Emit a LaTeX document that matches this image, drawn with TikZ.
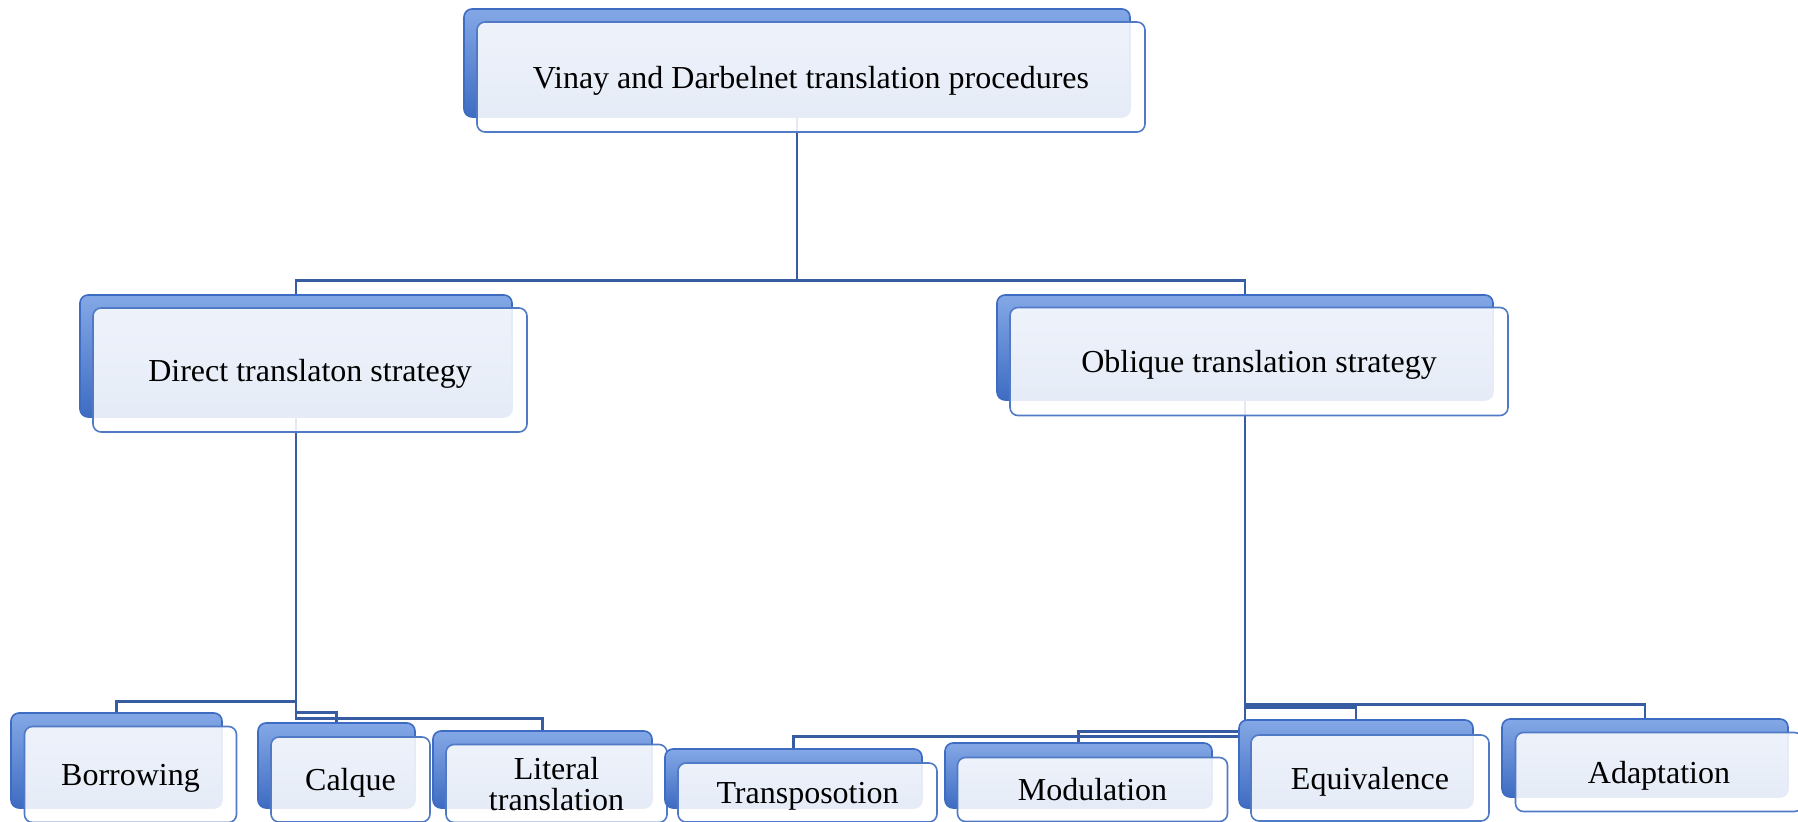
\documentclass[tikz,border=0pt]{standalone}
\usepackage{fontspec}
\setmainfont{Liberation Serif}
\usetikzlibrary{backgrounds}

\definecolor{bevel}{RGB}{62,108,194}
\definecolor{bevelhi}{RGB}{132,168,230}
\definecolor{frame}{RGB}{80,122,198}
\definecolor{linkc}{RGB}{56,92,162}

\begin{document}
\begin{tikzpicture}[
    x=0.5pt, y=-0.5pt,
    back/.style={draw=bevel, line width=0.8pt, rounded corners=4pt,
                 top color=bevelhi, bottom color=bevel, inner sep=0pt},
    front/.style={draw=frame, line width=0.8pt, rounded corners=4pt,
                  fill=white, fill opacity=0.87, text opacity=1,
                  align=center, inner sep=1pt, xshift=7pt, yshift=-7pt,
                  text depth=0pt, font=\fontsize{16}{15.5}\selectfont},
    link/.style={draw=linkc, line width=1.35pt},
  ]
  \useasboundingbox (0,0) rectangle (1798,822);

  % --- root ---
  \node[back, minimum width=333pt, minimum height=54pt] (topB) at (797,63) {};
  \node[front, minimum width=334pt, minimum height=55pt] (top) at (topB)
    {Vinay and Darbelnet translation procedures};

  % --- the two strategies ---
  \node[back, minimum width=216pt, minimum height=61pt] (dirB) at (296,356) {};
  \node[front, minimum width=217pt, minimum height=62pt] (dir) at (dirB)
    {Direct translaton strategy};
  \node[back, minimum width=248pt, minimum height=52.5pt] (oblB) at (1245,347.5) {};
  \node[front, minimum width=249pt, minimum height=54pt] (obl) at (oblB)
    {Oblique translation strategy};

  % --- direct procedures ---
  \node[back, minimum width=105.5pt, minimum height=47.5pt] (borB) at (116.5,760.5) {};
  \node[front, minimum width=106pt, minimum height=48pt] (bor) at (borB) {Borrowing};
  \node[back, minimum width=78.5pt, minimum height=42.5pt] (calB) at (336.5,765.5) {};
  \node[front, minimum width=79.5pt, minimum height=42.5pt] (cal) at (calB) {Calque};
  \node[back, minimum width=109.5pt, minimum height=38.5pt] (litB) at (542.5,769.5) {};
  \node[front, minimum width=110.5pt, minimum height=39pt] (lit) at (litB)
    {Literal\\translation};

  % --- oblique procedures ---
  \node[back, minimum width=128.5pt, minimum height=29.5pt] (traB) at (793.5,778.5) {};
  \node[front, minimum width=129.5pt, minimum height=29.5pt] (tra) at (traB) {Transposotion};
  \node[back, minimum width=133.5pt, minimum height=32.5pt] (modB) at (1078.5,775.5) {};
  \node[front, minimum width=135pt, minimum height=32pt] (mod) at (modB) {Modulation};
  \node[back, minimum width=117pt, minimum height=44pt] (equB) at (1356,764) {};
  \node[front, minimum width=119pt, minimum height=43pt] (equ) at (equB) {Equivalence};
  \node[back, minimum width=143pt, minimum height=39pt] (adaB) at (1645,758) {};
  \node[front, minimum width=143.5pt, minimum height=39.5pt] (ada) at (adaB) {Adaptation};

  % --- elbow connectors, behind the boxes ---
  \begin{scope}[on background layer]
    \draw[link] (topB.south) |- ([yshift=7pt]dirB.north) -- (dirB.north);
    \draw[link] (topB.south) |- ([yshift=7pt]oblB.north) -- (oblB.north);

    \draw[link] (dirB.south) |- ([yshift=5.5pt]borB.north) -- (borB.north);
    \draw[link] (dirB.south) |- ([yshift=5pt]calB.north) -- (calB.north);
    \draw[link] (dirB.south) |- ([yshift=6pt]litB.north) -- (litB.north);

    \draw[link] (oblB.south) |- ([yshift=6pt]traB.north) -- (traB.north);
    \draw[link] (oblB.south) |- ([yshift=5.5pt]modB.north) -- (modB.north);
    \draw[link] (oblB.south) |- ([yshift=6pt]equB.north) -- (equB.north);
    \draw[link] (oblB.south) |- ([yshift=7pt]adaB.north) -- (adaB.north);
  \end{scope}
\end{tikzpicture}
\end{document}
